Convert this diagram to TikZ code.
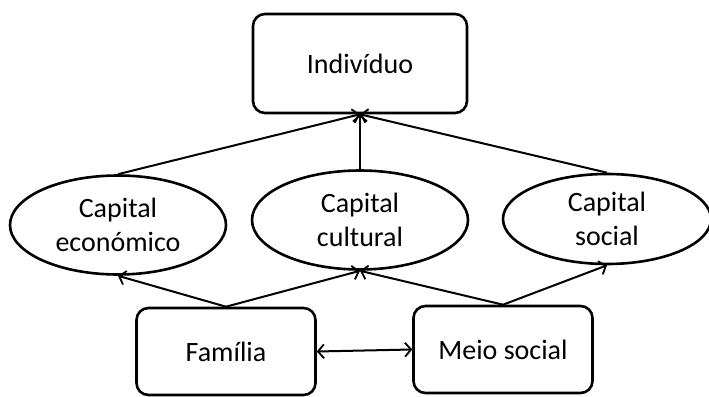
\documentclass[tikz,border=0pt]{standalone}
\usepackage{fontspec}
\setmainfont{Carlito}
\usetikzlibrary{arrows.meta,shapes.geometric}

\begin{document}
\begin{tikzpicture}[x=1pt, y=-1pt,
  caixa/.style={draw, line width=2.6pt, rounded corners=12pt, align=center, font=\fontsize{28}{34}\selectfont},
  capital/.style={draw, ellipse, line width=2.6pt, inner sep=0pt, minimum width=216pt, minimum height=99pt, align=center, font=\fontsize{28}{34}\selectfont},
  ponta/.tip={Straight Barb[length=6pt, width=14pt, line width=1.8pt]},
  seta/.style={line width=2pt, -ponta},
  seta dupla/.style={line width=2pt, ponta-ponta}]
\useasboundingbox (0,0) rectangle (709,396);
\node[caixa, minimum width=214pt, minimum height=99pt] (indiv) at (360,63.5) {Indivíduo};
\node[capital] (econ) at (118,225) {Capital\\económico};
\node[capital] (cult) at (360,220) {Capital\\cultural};
\node[capital, minimum width=208pt, minimum height=90pt] (soc) at (607,219) {Capital\\social};
\node[caixa, minimum width=179pt, minimum height=87pt] (fam) at (226,351.5) {Família};
\node[caixa, minimum width=179pt, minimum height=87pt] (meio) at (503,349.5) {Meio social};
\draw[seta] (econ.north) -- (indiv.south);
\draw[seta] (cult.north) -- (indiv.south);
\draw[seta] (soc.north) -- (indiv.south);
\draw[seta] (fam.north) -- (econ.south);
\draw[seta] (fam.north) -- (cult.south);
\draw[seta] (meio.north) -- (cult.south);
\draw[seta] (meio.north) -- (soc.south);
\draw[seta dupla] (fam.east) -- (meio.west);
\end{tikzpicture}
\end{document}
